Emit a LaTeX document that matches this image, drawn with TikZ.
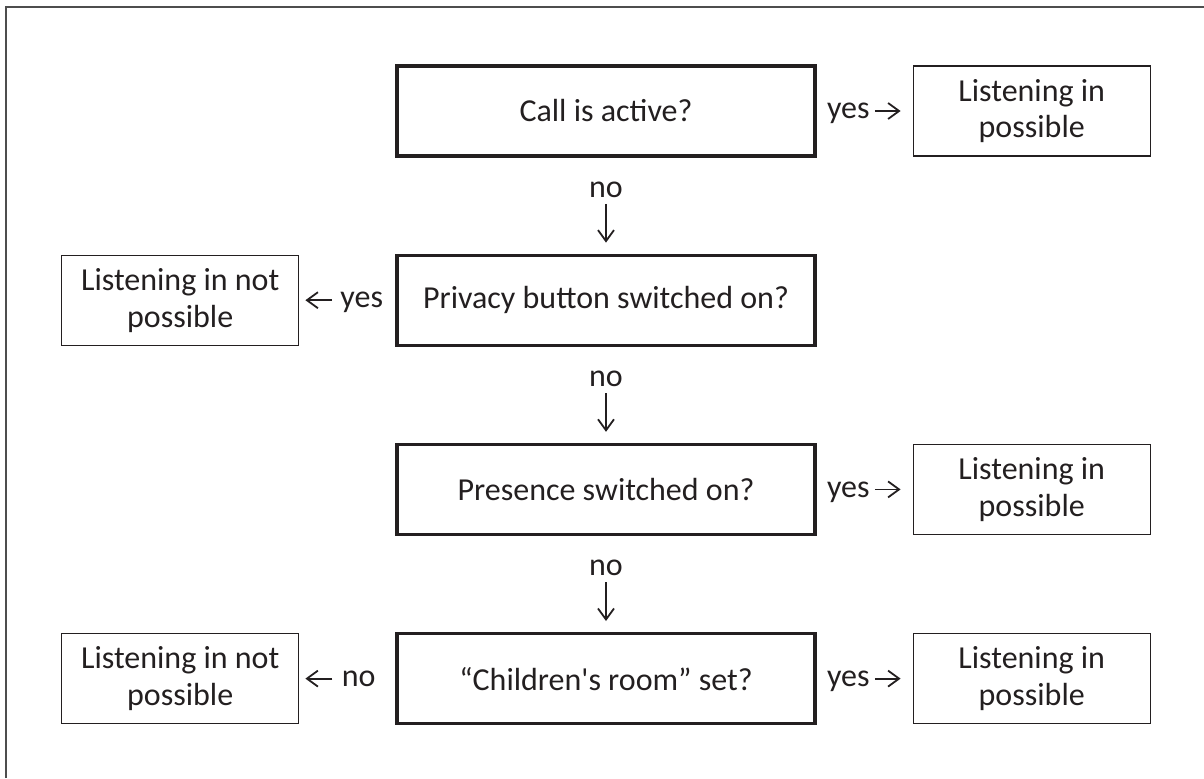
\documentclass[tikz,border=0pt]{standalone}
\usepackage{fontspec}
\setmainfont{Carlito}
\usepackage{tikz}
\usetikzlibrary{positioning, arrows.meta}
\definecolor{ink}{HTML}{231F20}
\definecolor{framegray}{HTML}{4D4D4D}

\begin{document}
\begin{tikzpicture}[
    x=0.5pt, y=-0.5pt,
    node distance=48pt,
    font=\fontsize{16}{18.4}\selectfont,
    askbox/.style={draw=ink,line width=1.6pt,minimum width=209pt,minimum height=45pt,text=ink},
    endbox/.style={draw=ink,line width=0.65pt,minimum width=118.5pt,minimum height=45pt,align=center,text=ink},
    lbl/.style={inner sep=1pt,text depth=0pt,text=ink},
    flow/.style={-{Straight Barb[length=5.5pt,width=8pt]},line width=0.9pt,draw=ink}
]
\useasboundingbox (0,0) rectangle (1204,778);

% 外框
\draw[framegray,line width=1pt] (6,778) -- (6,7) -- (1204,7);

% 判断节点
\node[askbox] (q1) at (606,111) {Call is active?};
\node[askbox,below=of q1] (q2) {Privacy button switched on?};
\node[askbox,below=of q2] (q3) {Presence switched on?};
\node[askbox,below=of q3] (q4) {\textquotedblleft Children\textquotesingle s room\textquotedblright{} set?};

% 结果节点
\node[endbox,right=of q1] (r1) {Listening in\\possible};
\node[endbox,left=of q2] (l2) {Listening in not\\possible};
\node[endbox,right=of q3] (r3) {Listening in\\possible};
\node[endbox,right=of q4] (r4) {Listening in\\possible};
\node[endbox,left=of q4] (l4) {Listening in not\\possible};

% 向下 no
\node[lbl,below=10.75pt of q1] (n1) {no};
\node[lbl,below=10.75pt of q2] (n2) {no};
\node[lbl,below=10.75pt of q3] (n3) {no};
\draw[flow,shorten <=2.25pt,shorten >=5.5pt] (n1) -- (q2);
\draw[flow,shorten <=2.25pt,shorten >=5.5pt] (n2) -- (q3);
\draw[flow,shorten <=2.25pt,shorten >=5.5pt] (n3) -- (q4);

% 向右 yes
\node[lbl,right=4pt of q1] (y1) {yes};
\node[lbl,right=4pt of q3] (y3) {yes};
\node[lbl,right=4pt of q4] (y4) {yes};
\draw[flow,shorten <=1.5pt,shorten >=6pt] (y1) -- (r1);
\draw[flow,shorten <=1.5pt,shorten >=6pt] (y3) -- (r3);
\draw[flow,shorten <=1.5pt,shorten >=6pt] (y4) -- (r4);

% 向左
\node[lbl,left=5pt of q2] (y2) {yes};
\node[lbl,left=8.75pt of q4] (n4) {no};
\draw[flow,shorten <=3pt,shorten >=3pt] (y2) -- (l2);
\draw[flow,shorten <=3.5pt,shorten >=3pt] (n4) -- (l4);
\end{tikzpicture}
\end{document}
